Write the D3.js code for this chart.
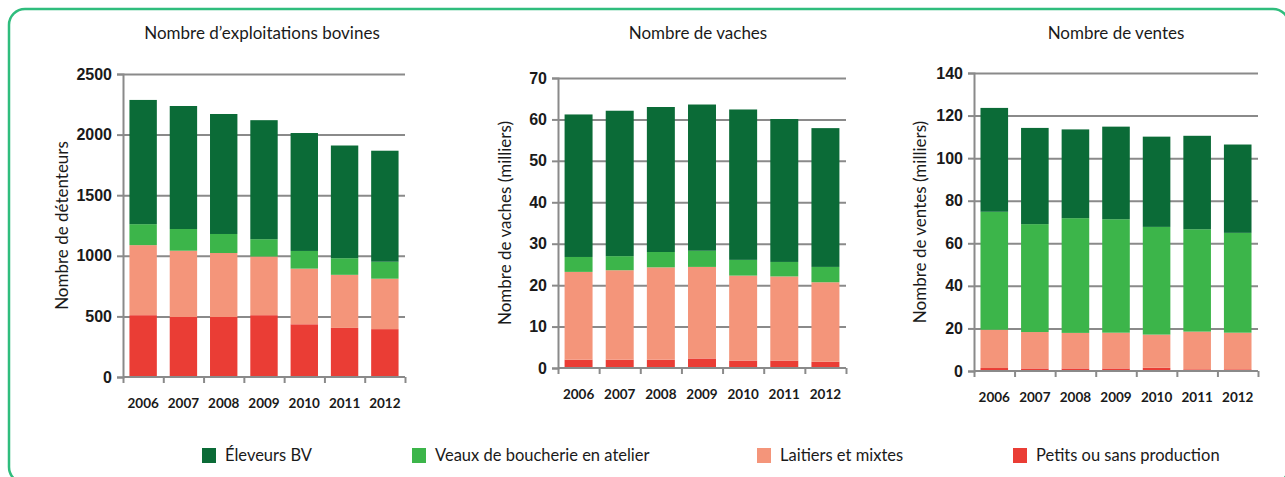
<!DOCTYPE html>
<html>
<head>
<meta charset="utf-8">
<script src="https://d3js.org/d3.v7.min.js"></script>
<style>
  body { margin: 0; background: #fff; }
  svg { display: block; font-family: Lato, "Open Sans", sans-serif; }
  .tick text { fill: #1a1a1a; }
</style>
</head>
<body>
<svg id="chart" width="1285" height="477"></svg>
<script>
var years = ['2006', '2007', '2008', '2009', '2010', '2011', '2012'];
var seriesNames = ['Éleveurs BV', 'Veaux de boucherie en atelier', 'Laitiers et mixtes', 'Petits ou sans production'];
var seriesColors = ['#0b6b37', '#3cb54a', '#f4957a', '#ea3d35'];

// Nombre d'exploitations bovines
var exploitPetits   = [510, 495, 495, 510, 435, 405, 395];
var exploitLaitiers = [578, 547, 528, 484, 459, 438, 416];
var exploitVeaux    = [173, 179, 157, 143, 146, 137, 140];
var exploitEleveurs = [1025, 1015, 990, 982, 973, 930, 916];
var exploitTicks = [0, 500, 1000, 1500, 2000, 2500];

// Nombre de vaches (milliers)
var vachesPetits   = [2.0, 2.0, 2.0, 2.3, 1.8, 1.8, 1.5];
var vachesLaitiers = [21.2, 21.6, 22.3, 22.1, 20.5, 20.3, 19.2];
var vachesVeaux    = [3.6, 3.4, 3.7, 3.9, 3.8, 3.5, 3.7];
var vachesEleveurs = [34.4, 35.1, 35.0, 35.3, 36.3, 34.5, 33.5];
var vachesTicks = [0, 10, 20, 30, 40, 50, 60, 70];

// Nombre de ventes (milliers)
var ventesPetits   = [1.4, 1.2, 1.2, 1.2, 1.5, 0.8, 0.8];
var ventesLaitiers = [18.0, 17.1, 16.7, 16.8, 15.6, 17.7, 17.2];
var ventesVeaux    = [55.4, 50.7, 53.9, 53.3, 50.6, 48.1, 46.9];
var ventesEleveurs = [48.8, 45.2, 41.7, 43.5, 42.4, 43.9, 41.5];
var ventesTicks = [0, 20, 40, 60, 80, 100, 120, 140];

var charts = [
  { title: 'Nombre d\u2019exploitations bovines', ylabel: 'Nombre de détenteurs',
    series: [exploitEleveurs, exploitVeaux, exploitLaitiers, exploitPetits], ticks: exploitTicks,
    left: 123, right: 405, top: 74, bottom: 377, titleX: 262, ylabelX: 62 },
  { title: 'Nombre de vaches', ylabel: 'Nombre de vaches (milliers)',
    series: [vachesEleveurs, vachesVeaux, vachesLaitiers, vachesPetits], ticks: vachesTicks,
    left: 558, right: 846, top: 78, bottom: 368, titleX: 698, ylabelX: 505 },
  { title: 'Nombre de ventes', ylabel: 'Nombre de ventes (milliers)',
    series: [ventesEleveurs, ventesVeaux, ventesLaitiers, ventesPetits], ticks: ventesTicks,
    left: 974, right: 1258, top: 73, bottom: 371, titleX: 1116, ylabelX: 920 }
];

var svg = d3.select('#chart');

// green rounded frame
svg.append('rect')
  .attr('x', 9).attr('y', 9).attr('width', 1280).attr('height', 474)
  .attr('rx', 16).attr('ry', 16)
  .attr('fill', 'none').attr('stroke', '#2fbd7d').attr('stroke-width', 2.5);

charts.forEach(function (c) {
  var g = svg.append('g');

  var x = d3.scaleBand().domain(years).range([c.left, c.right])
    .paddingInner(0.32).paddingOuter(0.16);
  var y = d3.scaleLinear().domain([0, d3.max(c.ticks)]).range([c.bottom, c.top]);

  // stack from bottom: petits, laitiers, veaux, eleveurs
  var rows = years.map(function (yr, i) {
    var r = { year: yr };
    seriesNames.forEach(function (s, k) { r[s] = c.series[k][i]; });
    return r;
  });
  var stack = d3.stack().keys(seriesNames.slice().reverse())(rows);

  // gridlines
  g.append('g')
    .attr('transform', 'translate(' + c.left + ',0)')
    .call(d3.axisLeft(y).tickValues(c.ticks.slice(1)).tickSize(-(c.right - c.left)).tickFormat(''))
    .call(function (a) {
      a.select('.domain').remove();
      a.selectAll('line').attr('stroke', '#8a8a8a').attr('stroke-width', 2);
    });

  // bars
  g.selectAll('g.layer').data(stack).enter().append('g')
    .attr('class', 'layer')
    .attr('fill', function (d) { return seriesColors[seriesNames.indexOf(d.key)]; })
    .selectAll('rect').data(function (d) { return d; }).enter().append('rect')
    .attr('x', function (d) { return x(d.data.year); })
    .attr('width', x.bandwidth())
    .attr('y', function (d) { return y(d[1]); })
    .attr('height', function (d) { return y(d[0]) - y(d[1]); });

  // y axis
  g.append('g')
    .attr('transform', 'translate(' + c.left + ',0)')
    .call(d3.axisLeft(y).tickValues(c.ticks).tickSize(6).tickPadding(5).tickFormat(d3.format('d')))
    .call(function (a) {
      a.select('.domain').attr('stroke', '#8a8a8a').attr('stroke-width', 2);
      a.selectAll('line').attr('stroke', '#8a8a8a').attr('stroke-width', 2);
      a.selectAll('text').attr('font-size', 16).attr('font-weight', 700);
    });

  // x axis with ticks on the band boundaries
  var xb = d3.scaleLinear().domain([0, years.length]).range([c.left, c.right]);
  g.append('g')
    .attr('transform', 'translate(0,' + c.bottom + ')')
    .call(d3.axisBottom(xb).tickValues(d3.range(years.length + 1)).tickSize(6).tickFormat(''))
    .call(function (a) {
      a.select('.domain').attr('stroke', '#8a8a8a').attr('stroke-width', 2).attr('d', 'M' + c.left + ',0H' + c.right);
      a.selectAll('line').attr('stroke', '#8a8a8a').attr('stroke-width', 2);
    });

  g.append('g').selectAll('text').data(years).enter().append('text')
    .attr('x', function (d) { return x(d) + x.bandwidth() / 2; })
    .attr('y', c.bottom + 31)
    .attr('text-anchor', 'middle')
    .attr('font-size', 13.5).attr('font-weight', 700).attr('fill', '#1a1a1a')
    .text(function (d) { return d; });

  // title
  g.append('text')
    .attr('x', c.titleX).attr('y', 39)
    .attr('text-anchor', 'middle')
    .attr('font-size', 17).attr('fill', '#1a1a1a')
    .text(c.title);

  // y label
  g.append('text')
    .attr('transform', 'translate(' + c.ylabelX + ',' + (c.top + c.bottom) / 2 + ') rotate(-90)')
    .attr('text-anchor', 'middle').attr('dy', '0.35em')
    .attr('font-size', 17).attr('fill', '#1a1a1a')
    .text(c.ylabel);
});

// legend
var legendX = [202, 412, 757, 1013];
var legend = svg.append('g').selectAll('g').data(seriesNames).enter().append('g')
  .attr('transform', function (d, i) { return 'translate(' + legendX[i] + ',448)'; });
legend.append('rect')
  .attr('width', 14).attr('height', 15)
  .attr('fill', function (d, i) { return seriesColors[i]; });
legend.append('text')
  .attr('x', 23).attr('y', 13)
  .attr('font-size', 16.5).attr('fill', '#1a1a1a')
  .text(function (d) { return d; });
</script>
</body>
</html>
